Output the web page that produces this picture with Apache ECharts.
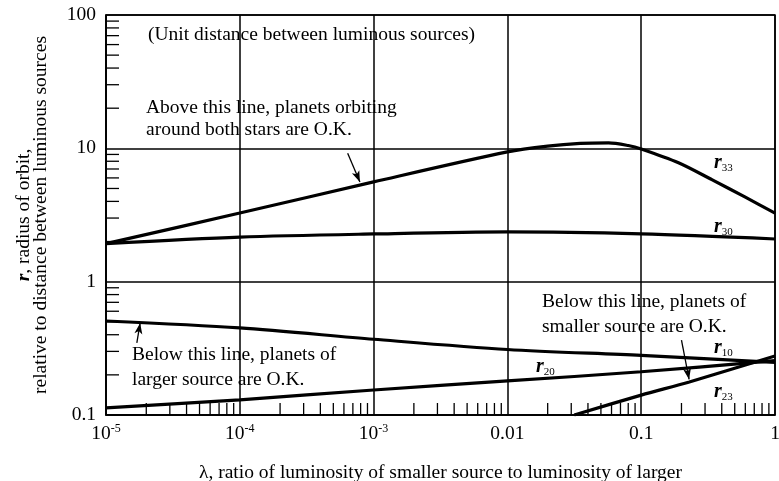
<!DOCTYPE html>
<html>
<head>
<meta charset="utf-8">
<script src="https://cdn.jsdelivr.net/npm/echarts@6/dist/echarts.min.js"></script>
<style>
html, body { margin: 0; padding: 0; background: #fff; }
#chart { width: 779px; height: 481px; }
</style>
</head>
<body>
<div id="chart"></div>
<script>
// values (lambda, r)
const lamR33 = [1e-5, 1e-4, 1e-3, 0.01, 0.02, 0.035, 0.057, 0.08, 0.1, 0.19, 0.34, 0.6, 1]
const r33 = [1.93, 3.27, 5.6, 9.4, 10.4, 10.9, 11.0, 10.5, 9.9, 7.8, 5.8, 4.3, 3.27]
const lamDec = [1e-5, 1e-4, 1e-3, 0.01, 0.1, 1]
const r30 = [1.93, 2.16, 2.28, 2.36, 2.28, 2.09]
const r10 = [0.507, 0.45, 0.37, 0.31, 0.28, 0.248]
const r20 = [0.113, 0.13, 0.154, 0.18, 0.211, 0.256]
const lamR23 = [0.0316, 0.1, 0.229, 1]
const r23 = [0.1, 0.141, 0.177, 0.277]

const xDecades = [1e-5, 1e-4, 1e-3, 0.01, 0.1]
const yDecades = [0.1, 1, 10]
const minorSteps = [2, 3, 4, 5, 6, 7, 8, 9]
const xTickLabels = { '-5': '{n|10}{s|-5}', '-4': '{n|10}{s|-4}', '-3': '{n|10}{s|-3}', '-2': '{n|0.01}', '-1': '{n|0.1}', '0': '{n|1}' }
const yTickLabels = { '-1': '0.1', '0': '1', '1': '10', '2': '100' }

const serif = '"Liberation Serif", "DejaVu Serif", serif'
const fs = 19.5

function zip(xs, ys) {
  return xs.map((x, i) => [x, ys[i]])
}

const xMinor = []
xDecades.forEach(d => minorSteps.forEach(k => xMinor.push([d * k, 0.1])))
const yMinor = []
yDecades.forEach(d => minorSteps.forEach(k => yMinor.push([1e-5, d * k])))

function curve(name, data) {
  return {
    name: name,
    type: 'line',
    smooth: 0.3,
    symbol: 'none',
    lineStyle: { color: '#000', width: 3.2 },
    data: data
  }
}

function tickSeries(data, dx, dy) {
  return {
    type: 'custom',
    silent: true,
    data: data,
    renderItem(params, api) {
      const p = api.coord([api.value(0), api.value(1)])
      return {
        type: 'line',
        shape: { x1: p[0], y1: p[1], x2: p[0] + dx, y2: p[1] + dy },
        style: { stroke: '#000', lineWidth: 1.3 }
      }
    }
  }
}

function arrow(from, to) {
  return [{ coord: from }, { coord: to }]
}

function text(str, x, y) {
  return {
    type: 'text',
    silent: true,
    style: {
      x: x, y: y, text: str, fill: '#000',
      font: fs + 'px ' + serif,
      verticalAlign: 'middle'
    }
  }
}

function rLabel(sub, x, y) {
  return {
    type: 'text',
    silent: true,
    style: {
      x: x, y: y,
      text: '{r|r}{s|' + sub + '}',
      verticalAlign: 'middle',
      rich: {
        r: { fontFamily: serif, fontSize: 20, fontWeight: 'bold', fontStyle: 'italic', lineHeight: 22, fill: '#000' },
        s: { fontFamily: serif, fontSize: 11, lineHeight: 13, verticalAlign: 'bottom', fill: '#000' }
      }
    }
  }
}

const chart = echarts.init(document.getElementById('chart'))
const axisLine = { show: true, lineStyle: { color: '#000', width: 1.5 } }
const split = { show: true, lineStyle: { color: '#000', width: 1.5 } }

const option = {
  backgroundColor: '#fff',
  animation: false,
  grid: {
    left: 106, right: 4, top: 15, bottom: 66,
    containLabel: false,
    outerBoundsMode: 'none',
    show: true, borderColor: '#000', borderWidth: 1.5
  },
  xAxis: {
    type: 'log',
    logBase: 10,
    min: 1e-5,
    max: 1,
    splitNumber: 5,
    axisLine: axisLine,
    axisTick: { show: false },
    splitLine: split,
    axisLabel: {
      margin: 8,
      formatter(v) {
        return xTickLabels[String(Math.round(Math.log10(v)))]
      },
      rich: {
        n: { fontFamily: serif, fontSize: fs, color: '#000', lineHeight: 22 },
        s: { fontFamily: serif, fontSize: 12, color: '#000', lineHeight: 14, verticalAlign: 'top' }
      }
    },
    name: 'λ, ratio of luminosity of smaller source to luminosity of larger',
    nameLocation: 'middle',
    nameGap: 48,
    nameTextStyle: { fontFamily: serif, fontSize: fs, color: '#000' }
  },
  yAxis: {
    type: 'log',
    logBase: 10,
    min: 0.1,
    max: 100,
    splitNumber: 3,
    axisLine: axisLine,
    axisTick: { show: false },
    splitLine: split,
    axisLabel: {
      margin: 10,
      fontFamily: serif,
      fontSize: fs,
      color: '#000',
      formatter(v) {
        return yTickLabels[String(Math.round(Math.log10(v)))]
      }
    },
    name: '{bi|r}, radius of orbit,\nrelative to distance between luminous sources',
    nameLocation: 'middle',
    nameGap: 57,
    nameRotate: 90,
    nameTextStyle: {
      fontFamily: serif, fontSize: fs, color: '#000', lineHeight: 17,
      rich: {
        bi: { fontFamily: serif, fontSize: fs, fontWeight: 'bold', fontStyle: 'italic', color: '#000', lineHeight: 17 }
      }
    }
  },
  series: [
    curve('r33', zip(lamR33, r33)),
    curve('r30', zip(lamDec, r30)),
    Object.assign(curve('r10', zip(lamDec, r10)), {
      markLine: {
        silent: true,
        symbol: ['none', 'arrow'],
        symbolSize: [6, 11],
        label: { show: false },
        lineStyle: { color: '#000', width: 1.3, type: 'solid' },
        data: [
          arrow([6.4e-4, 9.2], [7.9e-4, 5.6]),
          arrow([1.7e-5, 0.347], [1.8e-5, 0.49]),
          arrow([0.2, 0.365], [0.228, 0.185])
        ]
      }
    }),
    curve('r20', zip(lamDec, r20)),
    curve('r23', zip(lamR23, r23)),
    tickSeries(xMinor, 0, -12),
    tickSeries(yMinor, 13, 0)
  ],
  graphic: [
    text('(Unit distance between luminous sources)', 148, 35),
    text('Above this line, planets orbiting', 146, 108),
    text('around both stars are O.K.', 146, 130),
    text('Below this line, planets of', 132, 355),
    text('larger source are O.K.', 132, 380),
    text('Below this line, planets of', 542, 302),
    text('smaller source are O.K.', 542, 327),
    rLabel('33', 714, 163),
    rLabel('30', 714, 227),
    rLabel('10', 714, 348),
    rLabel('20', 536, 367),
    rLabel('23', 714, 392)
  ]
}
chart.setOption(option)
</script>
</body>
</html>
